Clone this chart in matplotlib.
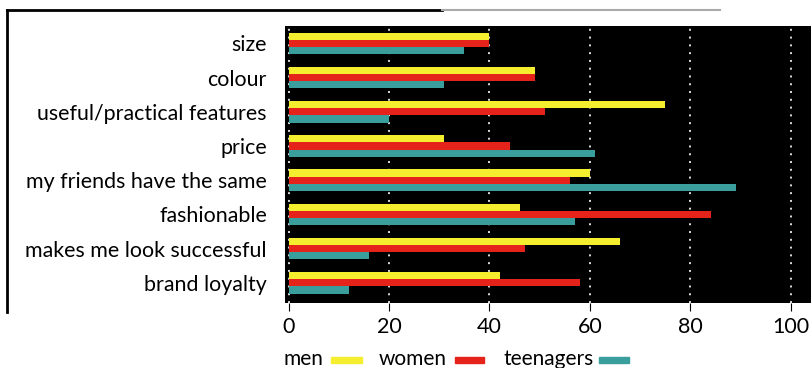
import numpy as np
import matplotlib
matplotlib.use("Agg")
from matplotlib import pyplot as plt
from matplotlib.lines import Line2D

categorias = ["size", "colour", "useful/practical features", "price",
              "my friends have the same", "fashionable",
              "makes me look successful", "brand loyalty"]
men = [40, 49, 75, 31, 60, 46, 66, 42]
women = [40, 49, 51, 44, 56, 84, 47, 58]
teenagers = [35, 31, 20, 61, 89, 57, 16, 12]
xticks = [0, 20, 40, 60, 80, 100]

amarillo = "#f5ee2e"
rojo = "#e5231b"
verde = "#3a9e9c"

plt.rcParams["font.family"] = ["Lato", "DejaVu Sans"]

fig = plt.figure(figsize=(8.11, 3.68), dpi=100)
ax = fig.add_axes([285/811, 1-303/368, 1-285/811, 277/368])
ax.set_facecolor("black")

y = np.arange(len(categorias))
h = 0.21
ax.barh(y - h, men, height=h, color=amarillo, zorder=3)
ax.barh(y, women, height=h, color=rojo, zorder=3)
ax.barh(y + h, teenagers, height=h, color=verde, zorder=3)

ax.set_xlim(-0.7, 104.0)
ax.set_ylim(7.59, -0.51)
ax.set_xticks(xticks)
ax.set_xticklabels([str(i) for i in xticks], fontsize=15.5)
ax.set_yticks(y)
ax.set_yticklabels(categorias, fontsize=15.4)
ax.tick_params(axis="y", length=0, pad=13)
ax.tick_params(axis="x", length=6, direction="out", color="black", pad=4)
ax.grid(axis="x", color="#dddddd", linestyle=(0, (1, 3)), linewidth=1.4, zorder=1)
for s in ax.spines.values():
    s.set_visible(False)

# marco
fig.add_artist(Line2D([7/811, 7/811], [1-10/368, 1-312/368], color="black", lw=2))
fig.add_artist(Line2D([7/811, 442/811], [1-10/368, 1-10/368], color="black", lw=2))
fig.add_artist(Line2D([442/811, 720/811], [1-10/368, 1-10/368], color="#aaaaaa", lw=1.5))

# leyenda
for x1, texto in [(323, "men"), (447, "women"), (594, "teenagers")]:
    fig.text(x1/811, 1-365/368, texto, fontsize=15, ha="right", va="baseline")
for x0, ancho, c in [(331, 31, amarillo), (455, 29, rojo), (599, 30, verde)]:
    fig.add_artist(plt.Rectangle((x0/811, 1-363/368), ancho/811, 6/368, color=c,
                                 transform=fig.transFigure))

plt.savefig("out.png", dpi=100)
